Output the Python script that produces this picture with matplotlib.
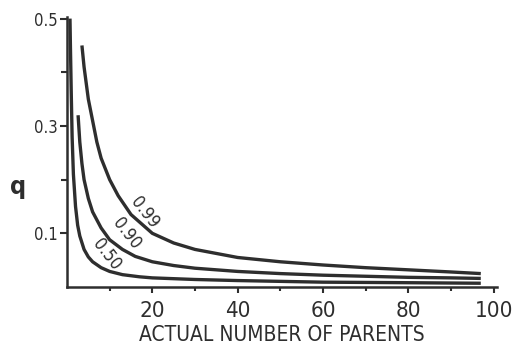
import matplotlib
matplotlib.use('Agg')
import matplotlib.pyplot as plt
from matplotlib.ticker import FixedLocator

plt.rcParams['font.family'] = ['DejaVu Sans']
plt.rcParams['font.stretch'] = 'condensed'

# curves: x = actual number of parents, q
x99 = [3.5, 4, 5, 6, 7, 8, 10, 12, 15, 20, 25, 30, 40, 50, 60, 70, 80, 90, 97]
q99 = [0.45, 0.41, 0.35, 0.31, 0.27, 0.24, 0.20, 0.17, 0.135, 0.10, 0.082, 0.070,
       0.055, 0.047, 0.041, 0.036, 0.032, 0.028, 0.025]

x90 = [2.6, 3, 3.5, 4, 5, 6, 8, 10, 13, 16, 20, 25, 30, 40, 50, 60, 70, 80, 90, 97]
q90 = [0.32, 0.27, 0.23, 0.20, 0.165, 0.14, 0.11, 0.088, 0.070, 0.057, 0.047, 0.040,
       0.035, 0.029, 0.025, 0.022, 0.020, 0.018, 0.017, 0.016]

x50 = [0.7, 0.8, 1.0, 1.2, 1.5, 2, 2.5, 3, 4, 5, 6, 8, 10, 13, 17, 20, 30, 40, 60, 80, 97]
q50 = [0.50, 0.45, 0.36, 0.28, 0.21, 0.15, 0.115, 0.095, 0.070, 0.056, 0.047, 0.036,
       0.029, 0.023, 0.019, 0.017, 0.014, 0.012, 0.009, 0.008, 0.007]

curve_labels = ['0.99', '0.90', '0.50']
label_pos = [(18.3, 0.139), (13.9, 0.100), (9.3, 0.061)]

xticks = [20, 40, 60, 80, 100]
yticks = [0.1, 0.3, 0.5]

ink = '#2e2e2e'

fig = plt.figure(figsize=(5.14, 3.53), dpi=100)
ax = fig.add_axes([67 / 514, 66 / 353, 430 / 514, 270 / 353])

for xs, qs in [(x99, q99), (x90, q90), (x50, q50)]:
    ax.plot(xs, qs, color=ink, lw=2.4, solid_capstyle='butt')

for txt, (lx, ly) in zip(curve_labels, label_pos):
    ax.text(lx, ly, txt, rotation=-52, ha='center', va='center',
            fontsize=12.5, color=ink)

ax.set_xlim(0, 100.8)
ax.set_ylim(0, 0.503)
ax.xaxis.set_major_locator(FixedLocator(xticks))
ax.xaxis.set_minor_locator(FixedLocator([10, 30, 50, 70, 90]))
ax.yaxis.set_major_locator(FixedLocator(yticks))
ax.yaxis.set_minor_locator(FixedLocator([0.2, 0.4]))
ax.set_yticklabels(['0.1', '0.3', '0.5'])

for side in ['top', 'right']:
    ax.spines[side].set_visible(False)
for side in ['left', 'bottom']:
    ax.spines[side].set_linewidth(1.8)
    ax.spines[side].set_color(ink)

ax.tick_params(axis='x', which='major', direction='out', length=4, width=1.5,
               labelsize=16, pad=6, colors=ink)
ax.tick_params(axis='x', which='minor', direction='out', length=3, width=1.5, colors=ink)
ax.tick_params(axis='y', which='major', direction='out', length=5, width=1.5,
               labelsize=12, pad=2, colors=ink)
ax.tick_params(axis='y', which='minor', direction='out', length=4, width=1.5, colors=ink)

ax.set_xlabel('ACTUAL NUMBER OF PARENTS', fontsize=15, color=ink, labelpad=3)
fig.text(18 / 514, 1 - 187 / 353, 'q', fontsize=18, fontweight='bold',
         ha='center', va='center', color=ink)

fig.savefig('out.png', dpi=100, facecolor='white')
